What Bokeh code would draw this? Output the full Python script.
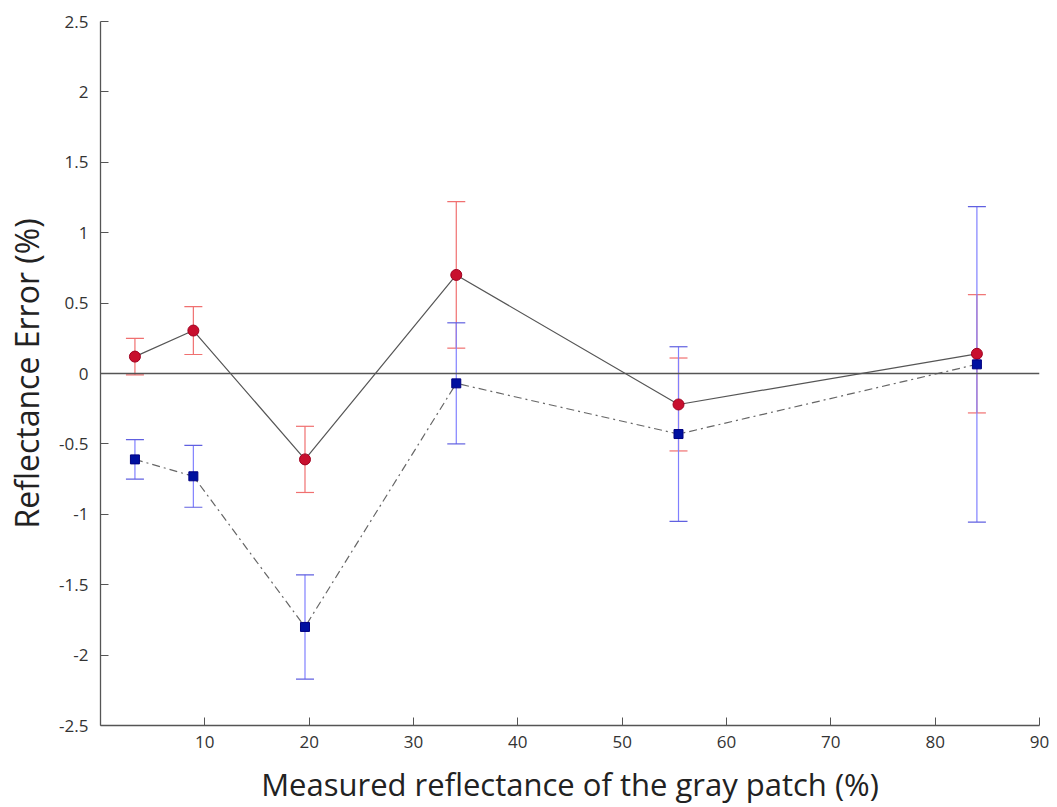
from bokeh.plotting import figure
from bokeh.models import ColumnDataSource, Range1d, FixedTicker, Whisker, TeeHead, Span
from bokeh.embed import file_html
from bokeh.resources import INLINE

# Data
x_vals = [3.3, 8.9, 19.6, 34.1, 55.4, 84.0]
red_vals = [0.12, 0.305, -0.61, 0.70, -0.22, 0.14]
red_err = [0.13, 0.17, 0.235, 0.52, 0.33, 0.42]
blue_vals = [-0.61, -0.73, -1.80, -0.07, -0.43, 0.065]
blue_err = [0.14, 0.22, 0.37, 0.43, 0.62, 1.12]

x_ticks = [10, 20, 30, 40, 50, 60, 70, 80, 90]
y_ticks = [-2.5, -2, -1.5, -1, -0.5, 0, 0.5, 1, 1.5, 2, 2.5]
y_tick_labels = ["-2.5", "-2", "-1.5", "-1", "-0.5", "0", "0.5", "1", "1.5", "2", "2.5"]

red_src = ColumnDataSource(dict(
    x=x_vals, y=red_vals,
    lo=[v - e for v, e in zip(red_vals, red_err)],
    hi=[v + e for v, e in zip(red_vals, red_err)],
))
blue_src = ColumnDataSource(dict(
    x=x_vals, y=blue_vals,
    lo=[v - e for v, e in zip(blue_vals, blue_err)],
    hi=[v + e for v, e in zip(blue_vals, blue_err)],
))

p = figure(width=1057, height=807, output_backend="svg", toolbar_location=None,
           x_range=Range1d(0, 90), y_range=Range1d(-2.5, 2.5),
           min_border_left=100, min_border_right=18, min_border_top=21, min_border_bottom=82)
p.outline_line_color = None
p.grid.visible = False
p.background_fill_color = "white"
p.border_fill_color = "white"

FONT = "Open Sans"
for ax in (p.xaxis[0], p.yaxis[0]):
    ax.axis_line_color = "#555555"
    ax.axis_line_width = 1.3
    ax.major_tick_line_color = "#555555"
    ax.major_tick_in = 8
    ax.major_tick_out = 0
    ax.minor_tick_line_color = None
    ax.major_label_text_font = FONT
    ax.major_label_text_font_size = "17px"
    ax.major_label_text_color = "#333333"
    ax.axis_label_text_font = FONT
    ax.axis_label_text_font_style = "normal"
    ax.axis_label_text_color = "#222222"

p.xaxis.axis_label_text_font_size = "31px"
p.yaxis.axis_label_text_font_size = "32px"
p.xaxis.ticker = FixedTicker(ticks=x_ticks)
p.yaxis.ticker = FixedTicker(ticks=y_ticks)
p.yaxis.major_label_overrides = {t: l for t, l in zip(y_ticks, y_tick_labels)}
p.xaxis.axis_label = "Measured reflectance of the gray patch (%)"
p.yaxis.axis_label = "Reflectance Error (%)"
p.xaxis.major_label_standoff = 10
p.yaxis.major_label_standoff = 12
p.xaxis.axis_label_standoff = 12
p.yaxis.axis_label_standoff = 8

# zero line
p.add_layout(Span(location=0, dimension="width", line_color="#555555", line_width=1.3))

# connecting lines
p.line("x", "y", source=red_src, line_color="#555555", line_width=1.2)
p.line("x", "y", source=blue_src, line_color="#666666", line_width=1.2, line_dash="8 4 2 4")

# error bars
p.add_layout(Whisker(source=red_src, base="x", lower="lo", upper="hi",
                     line_color="#f07070", line_width=1.2,
                     upper_head=TeeHead(size=18, line_color="#f07070", line_width=1.2),
                     lower_head=TeeHead(size=18, line_color="#f07070", line_width=1.2)))
p.add_layout(Whisker(source=blue_src, base="x", lower="lo", upper="hi",
                     line_color="#8080ff", line_width=1.2,
                     upper_head=TeeHead(size=18, line_color="#6060e0", line_width=1.2),
                     lower_head=TeeHead(size=18, line_color="#6060e0", line_width=1.2)))

# markers
p.scatter("x", "y", source=red_src, marker="circle", size=11,
          fill_color="#c8102e", line_color="#a00020", line_width=1)
p.scatter("x", "y", source=blue_src, marker="square", size=9,
          fill_color="#0010a0", line_color="#000080", line_width=1)

open("out.html", "w").write(file_html(p, INLINE))
